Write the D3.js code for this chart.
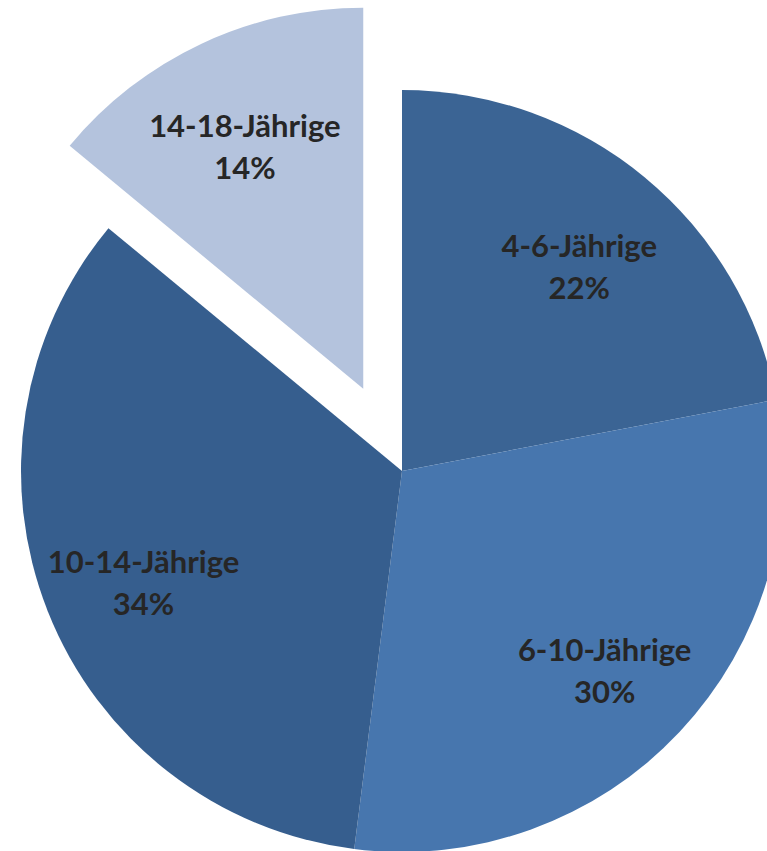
<!DOCTYPE html>
<html><head><meta charset="utf-8">
<script src="https://cdn.jsdelivr.net/npm/d3@7"></script>
<style>html,body{margin:0;padding:0;background:#fff;overflow:hidden}</style>
</head><body>
<svg id="c" width="767" height="851"></svg>
<script>
const categories = ["4-6-Jährige", "6-10-Jährige", "10-14-Jährige", "14-18-Jährige"];
const values = [22, 30, 34, 14];
const colors = ["#3B6494", "#4776AE", "#365E8E", "#B4C3DD"];
const exploded = [false, false, false, true];

const cx = 402, cy = 471, R = 381, explode = 91, labelR = 278;
const svg = d3.select("#c");
const data = categories.map((c, i) => ({cat: c, val: values[i], col: colors[i], ex: exploded[i]}));
const pie = d3.pie().value(d => d.val).sort(null);
const arcs = pie(data);
const arc = d3.arc().innerRadius(0).outerRadius(R);
const labelArc = d3.arc().innerRadius(labelR).outerRadius(labelR);

const g = svg.append("g").attr("transform", `translate(${cx},${cy})`);
const slices = g.selectAll("g.slice").data(arcs).join("g")
  .attr("class", "slice")
  .attr("transform", d => {
    if (!d.data.ex) return null;
    const a = (d.startAngle + d.endAngle) / 2;
    return `translate(${explode * Math.sin(a)},${-explode * Math.cos(a)})`;
  });
slices.append("path").attr("d", arc).attr("fill", d => d.data.col);
const txt = slices.append("text")
  .attr("transform", d => { const [x, y] = labelArc.centroid(d); return `translate(${x},${y})`; })
  .attr("text-anchor", "middle")
  .style("font-family", "Lato, 'Open Sans', sans-serif")
  .style("font-weight", "bold")
  .style("font-size", "31px")
  .attr("fill", "#262626");
txt.append("tspan").attr("x", 0).attr("dy", "0em").text(d => d.data.cat);
txt.append("tspan").attr("x", 0).attr("dy", "1.36em").text(d => d.data.val + "%");
</script>
</body></html>
